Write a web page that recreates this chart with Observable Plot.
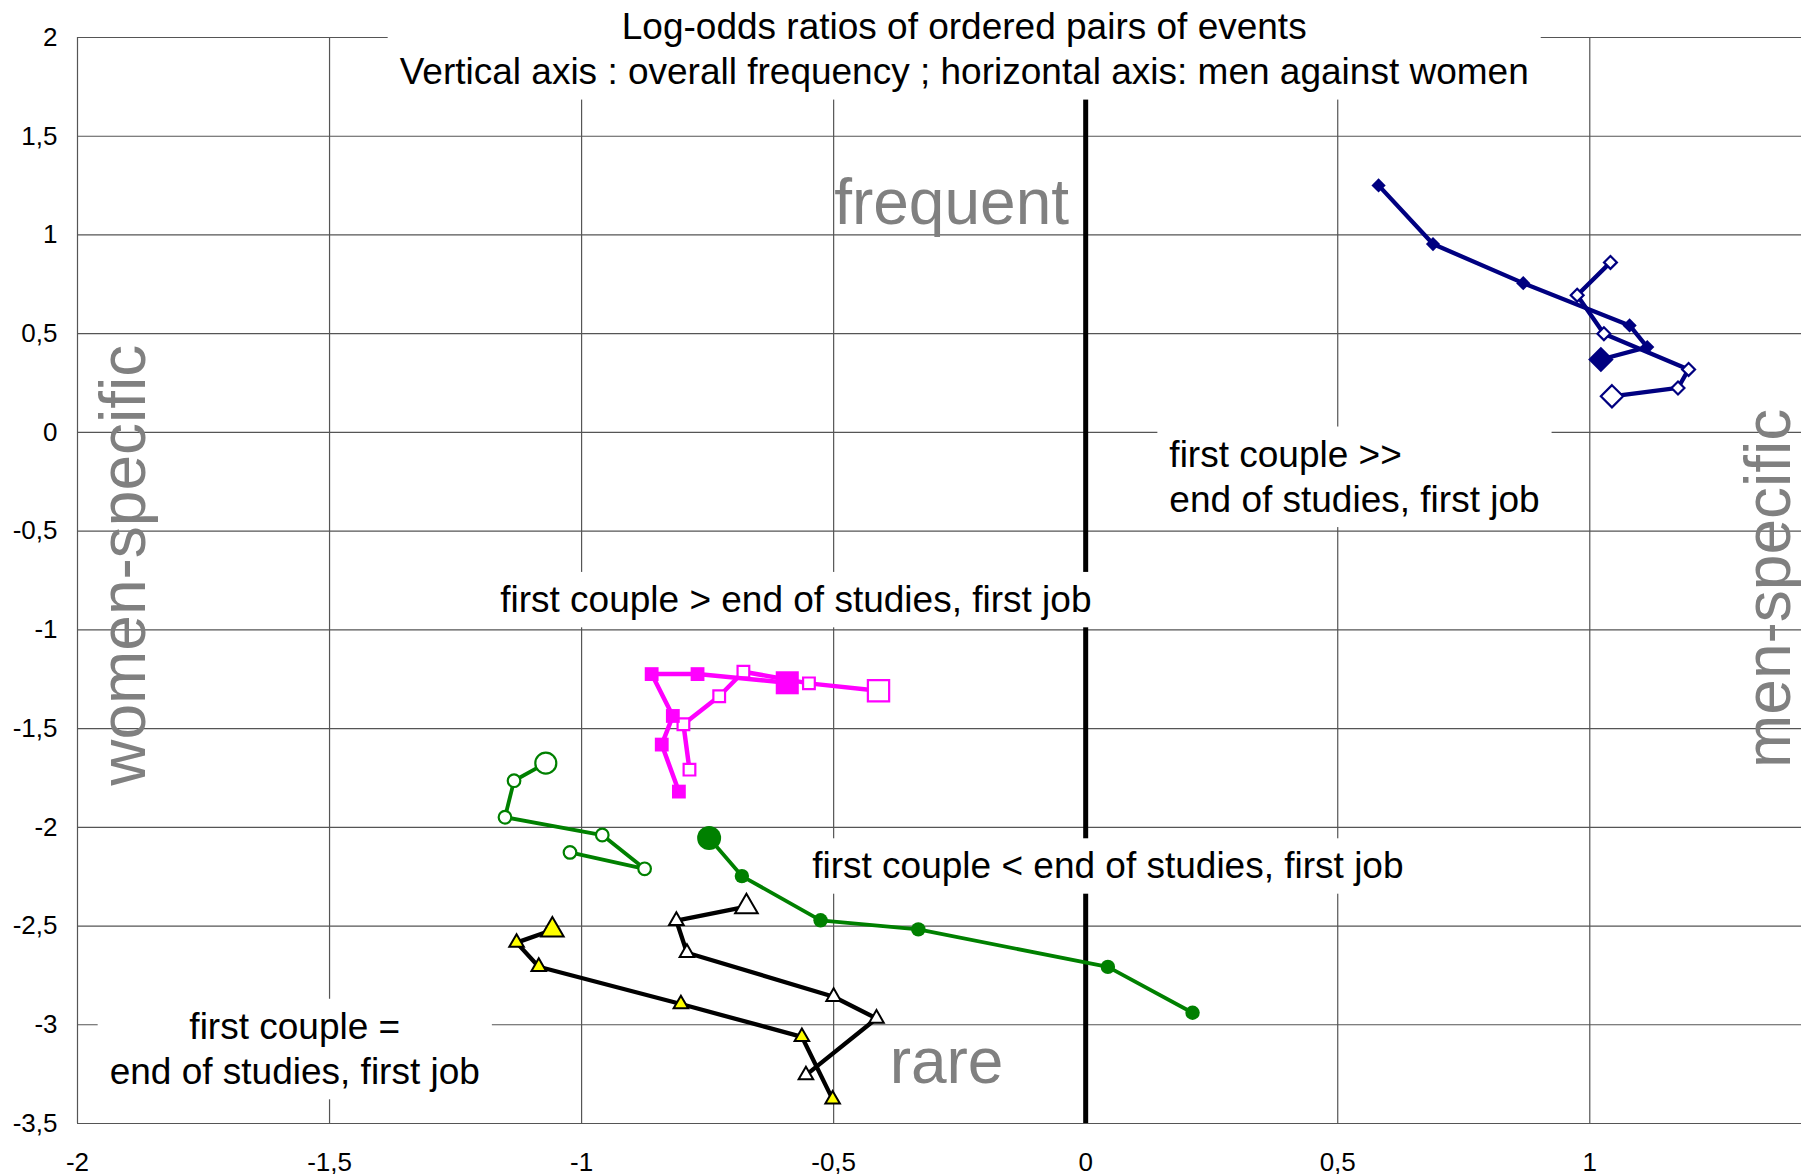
<!DOCTYPE html>
<html><head><meta charset="utf-8">
<script src="https://cdn.jsdelivr.net/npm/d3@7"></script>
<script src="https://cdn.jsdelivr.net/npm/@observablehq/plot@0.6"></script>
<style>
html,body{margin:0;padding:0;background:#fff;overflow:hidden;}
svg{display:block;}
</style>
</head><body>
<div id="chart"></div>
<script>
// ---- tick values ----
const xTicks = [-2, -1.5, -1, -0.5, 0, 0.5, 1];
const yTicks = [-3.5, -3, -2.5, -2, -1.5, -1, -0.5, 0, 0.5, 1, 1.5, 2];

// ---- series (first point = end marked with the larger symbol) ----
const navyFilledX = [1.022, 1.114, 1.079, 0.868, 0.689, 0.581];
const navyFilledY = [0.369, 0.432, 0.542, 0.756, 0.954, 1.251];
const navyOpenX = [1.044, 1.175, 1.196, 1.028, 0.975, 1.041];
const navyOpenY = [0.183, 0.225, 0.319, 0.500, 0.695, 0.861];

const pinkFilledX = [-0.592, -0.770, -0.861, -0.819, -0.841, -0.807];
const pinkFilledY = [-1.268, -1.224, -1.224, -1.436, -1.581, -1.819];
const pinkOpenX = [-0.411, -0.549, -0.679, -0.727, -0.798, -0.786];
const pinkOpenY = [-1.308, -1.271, -1.212, -1.336, -1.478, -1.708];

const greenOpenX = [-1.071, -1.134, -1.152, -0.959, -0.875, -1.023];
const greenOpenY = [-1.675, -1.764, -1.949, -2.039, -2.210, -2.127];
const greenFilledX = [-0.747, -0.682, -0.526, -0.332, 0.044, 0.212];
const greenFilledY = [-2.054, -2.247, -2.471, -2.517, -2.707, -2.939];

const yellowTriX = [-1.058, -1.129, -1.085, -0.803, -0.563, -0.502];
const yellowTriY = [-2.520, -2.584, -2.706, -2.895, -3.061, -3.378];
const whiteTriX = [-0.673, -0.812, -0.791, -0.500, -0.415, -0.555];
const whiteTriY = [-2.402, -2.473, -2.635, -2.858, -2.968, -3.255];

// ---- annotations ----
const titleText = "Log-odds ratios of ordered pairs of events\nVertical axis : overall frequency ; horizontal axis: men against women";
const titleX = -0.241, titleY = 1.95;

const boxedCenterText = [titleText, "first couple > end of studies, first job", "first couple < end of studies, first job", "first couple =\nend of studies, first job"];
const boxedCenterX = [titleX, -0.575, 0.044, -1.569];
const boxedCenterY = [titleY, -0.837, -2.186, -3.113];
const boxedLeftText = ["first couple >>\nend of studies, first job"];
const boxedLeftX = [0.166];
const boxedLeftY = [-0.215];

const bigWordText = ["frequent", "rare"];
const bigWordX = [-0.266, -0.276];
const bigWordY = [1.16, -3.192];
const sideText = ["women-specific", "men-specific"];
const sideX = [-1.907, 1.357];
const sideY = [-0.673, -0.79];

// ---- build tables ----
const seriesList = [
  {name: "navyOpen", xs: navyOpenX, ys: navyOpenY},
  {name: "navyFilled", xs: navyFilledX, ys: navyFilledY},
  {name: "pinkOpen", xs: pinkOpenX, ys: pinkOpenY},
  {name: "pinkFilled", xs: pinkFilledX, ys: pinkFilledY},
  {name: "greenOpen", xs: greenOpenX, ys: greenOpenY},
  {name: "greenFilled", xs: greenFilledX, ys: greenFilledY},
  {name: "whiteTri", xs: whiteTriX, ys: whiteTriY},
  {name: "yellowTri", xs: yellowTriX, ys: yellowTriY}
];
const styles = {
  navyFilled: {line: "#000080", lw: 4.3, symbol: "diamond2", fill: "#000080", stroke: "none", sw: 0, r: 6.4, rBig: 11.5},
  navyOpen: {line: "#000080", lw: 4.3, symbol: "diamond2", fill: "white", stroke: "#000080", sw: 2.2, r: 5.8, rBig: 10},
  pinkFilled: {line: "#FF00FF", lw: 4.5, symbol: "square", fill: "#FF00FF", stroke: "none", sw: 0, r: 7.8, rBig: 13},
  pinkOpen: {line: "#FF00FF", lw: 4.5, symbol: "square", fill: "white", stroke: "#FF00FF", sw: 2.2, r: 6.6, rBig: 12},
  greenFilled: {line: "#008000", lw: 3.8, symbol: "circle", fill: "#008000", stroke: "none", sw: 0, r: 7.2, rBig: 12},
  greenOpen: {line: "#008000", lw: 3.8, symbol: "circle", fill: "white", stroke: "#008000", sw: 2.2, r: 6.3, rBig: 10.5},
  yellowTri: {line: "#000000", lw: 4.3, symbol: "triangle", fill: "#FFFF00", stroke: "#000000", sw: 2, r: 5.4, rBig: 8.4},
  whiteTri: {line: "#000000", lw: 4.3, symbol: "triangle", fill: "white", stroke: "#000000", sw: 2, r: 5.4, rBig: 8.4}
};

const fmt = d => String(d).replace(".", ",");
const font = "'Liberation Sans', Arial, Helvetica, sans-serif";

const marks = [
  Plot.ruleX(xTicks, {stroke: "#555", strokeWidth: 1.2}),
  Plot.ruleY(yTicks, {stroke: "#555", strokeWidth: 1.2}),
  Plot.ruleX([0], {stroke: "#000", strokeWidth: 5}),
  Plot.axisY(yTicks, {tickSize: 0, tickPadding: 20, tickFormat: fmt, fontSize: 26, label: null, fill: "#000"}),
  Plot.axisX(xTicks, {tickSize: 0, tickPadding: 29, tickFormat: fmt, fontSize: 26, label: null, fill: "#000"}),
  Plot.text(bigWordText.map((t, i) => ({t, x: bigWordX[i], y: bigWordY[i]})),
    {x: "x", y: "y", text: "t", fontSize: 64, fill: "#808080", textAnchor: "middle"}),
  Plot.text(sideText.map((t, i) => ({t, x: sideX[i], y: sideY[i]})),
    {x: "x", y: "y", text: "t", fontSize: 64, fill: "#808080", rotate: -90, textAnchor: "middle"}),
  Plot.text(boxedCenterText.map((t, i) => ({t, x: boxedCenterX[i], y: boxedCenterY[i]})),
    {x: "x", y: "y", text: "t", fontSize: 37, lineHeight: 1.22, fill: "#000", textAnchor: "middle"}),
  Plot.text(boxedLeftText.map((t, i) => ({t, x: boxedLeftX[i], y: boxedLeftY[i]})),
    {x: "x", y: "y", text: "t", fontSize: 37, lineHeight: 1.22, fill: "#000", textAnchor: "start"})
];

for (const s of seriesList) {
  const st = styles[s.name];
  const rows = s.xs.map((x, i) => ({x, y: s.ys[i], end: i === 0}));
  marks.push(Plot.line(rows, {x: "x", y: "y", stroke: st.line, strokeWidth: st.lw, strokeLinejoin: "round"}));
  marks.push(Plot.dot(rows.filter(d => !d.end), {x: "x", y: "y", symbol: st.symbol, r: st.r,
    fill: st.fill, stroke: st.stroke, strokeWidth: st.sw}));
  marks.push(Plot.dot(rows.filter(d => d.end), {x: "x", y: "y", symbol: st.symbol, r: st.rBig,
    fill: st.fill, stroke: st.stroke, strokeWidth: st.sw}));
}

const chart = Plot.plot({
  width: 1801, height: 1174,
  marginTop: 37, marginBottom: 51, marginLeft: 77, marginRight: 0,
  x: {domain: [-2, 1.42], label: null},
  y: {domain: [-3.5, 2], label: null},
  style: {fontFamily: font, fontSize: "26px", background: "white", color: "#000", overflow: "visible"},
  marks
});
document.getElementById("chart").append(chart);

// white boxes behind the boxed labels, sized from the rendered text
const pad = 12;
const boxedKeys = new Set([...boxedCenterText, ...boxedLeftText].map(s => s.replace(/\n/g, "")));
chart.querySelectorAll("text").forEach(t => {
  if (!boxedKeys.has(t.textContent)) return;
  const b = t.getBBox();
  const rect = document.createElementNS("http://www.w3.org/2000/svg", "rect");
  rect.setAttribute("x", b.x - pad);
  rect.setAttribute("y", b.y - pad * 0.6);
  rect.setAttribute("width", b.width + 2 * pad);
  rect.setAttribute("height", b.height + pad * 1.2);
  rect.setAttribute("fill", "white");
  rect.setAttribute("stroke", "none");
  const tr = t.getAttribute("transform");
  if (tr) rect.setAttribute("transform", tr);
  t.parentNode.insertBefore(rect, t);
});
</script>
</body></html>
